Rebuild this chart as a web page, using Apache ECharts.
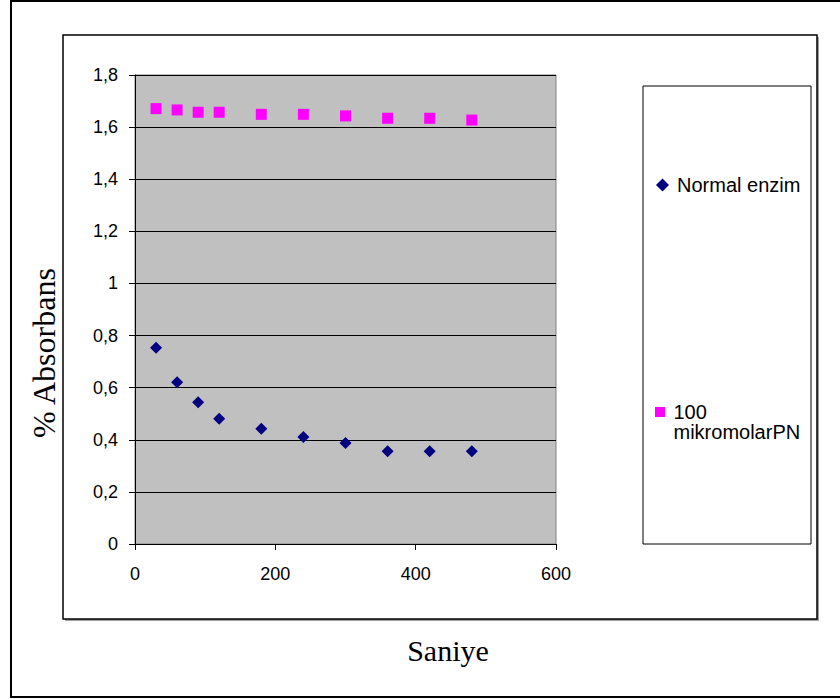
<!DOCTYPE html>
<html>
<head>
<meta charset="utf-8">
<script src="https://cdn.jsdelivr.net/npm/echarts@6/dist/echarts.min.js"></script>
<style>
  html, body { margin: 0; padding: 0; background: #fff; }
  #chart { width: 840px; height: 699px; }
</style>
</head>
<body>
<div id="chart"></div>
<script>
// zaman (saniye)
const seconds = [30, 60, 90, 120, 180, 240, 300, 360, 420, 480];
// normal enzim absorbans
const normalEnzim = [0.753, 0.621, 0.544, 0.481, 0.442, 0.411, 0.388, 0.356, 0.356, 0.356];
// 100 mikromolar PN
const mikromolarPN = [1.671, 1.666, 1.657, 1.657, 1.649, 1.649, 1.643, 1.634, 1.634, 1.627];
const xTicks = [0, 200, 400, 600];
const yTicks = [0, 0.2, 0.4, 0.6, 0.8, 1, 1.2, 1.4, 1.6, 1.8];

const pairs = (xs, ys) => xs.map((x, i) => [x, ys[i]]);
const fmtY = v => String(Math.round(v * 10) / 10).replace('.', ',');
const sans = 'Liberation Sans, Arial, sans-serif';
const serif = '"Liberation Serif", "Times New Roman", serif';

const chart = echarts.init(document.getElementById('chart'), null, { renderer: 'svg' });

const option = {
  animation: false,
  backgroundColor: '#fff',
  textStyle: { fontFamily: sans },
  graphic: [
    // dis cerceve
    { type: 'rect', z: -10, shape: { x: 11, y: 1, width: 840, height: 696 },
      style: { fill: 'none', stroke: '#000', lineWidth: 2 } },
    // grafik alani cercevesi (golge)
    { type: 'rect', z: -10, shape: { x: 65, y: 37, width: 754, height: 584 },
      style: { fill: '#a0a0a0', stroke: 'none' } },
    { type: 'rect', z: -9, shape: { x: 63, y: 35, width: 754, height: 584 },
      style: { fill: '#fff', stroke: '#000', lineWidth: 1.5 } },
    // lejant kutusu
    { type: 'rect', z: -8, shape: { x: 643, y: 86, width: 168, height: 458 },
      style: { fill: '#fff', stroke: '#000', lineWidth: 1 } },
    { type: 'text', x: 448, y: 650,
      style: { text: 'Saniye', font: '30px ' + serif, fill: '#000', align: 'center', verticalAlign: 'middle' } },
    { type: 'text', x: 44, y: 353, rotation: Math.PI / 2,
      style: { text: '% Absorbans', font: '32px ' + serif, fill: '#000', align: 'center', verticalAlign: 'middle' } }
  ],
  grid: {
    left: 135, right: 284, top: 75, bottom: 155,
    show: true, backgroundColor: '#c0c0c0', borderColor: '#808080', borderWidth: 1
  },
  legend: [
    {
      data: [{ name: 'Normal enzim', icon: 'diamond' }],
      orient: 'vertical', left: 656, top: 175, padding: 0, itemWidth: 13, itemHeight: 13, itemGap: 0,
      textStyle: { fontSize: 20, lineHeight: 20, color: '#000', fontFamily: sans, padding: [0, 0, 0, 3] }
    },
    {
      data: [{ name: '100\nmikromolarPN', icon: 'path://M0,0h10v10h-10Z M0,30h0.001v0.001Z' }],
      orient: 'vertical', left: 655, top: 402, padding: 0, itemWidth: 11, itemHeight: 30, itemGap: 0,
      textStyle: { fontSize: 20, color: '#000', lineHeight: 20, fontFamily: sans, padding: [0, 0, 0, 3] }
    }
  ],
  xAxis: {
    type: 'value', min: 0, max: 600, interval: 200,
    axisLine: { show: true, lineStyle: { color: '#000', width: 1 } },
    axisTick: { show: true, length: 6, lineStyle: { color: '#000' } },
    axisLabel: { fontSize: 18, color: '#000', margin: 21, customValues: xTicks },
    splitLine: { show: false }
  },
  yAxis: {
    type: 'value', min: 0, max: 1.8, interval: 0.2,
    axisLine: { show: true, lineStyle: { color: '#000', width: 1 } },
    axisTick: { show: true, length: 6, lineStyle: { color: '#000' } },
    axisLabel: { fontSize: 18, color: '#000', margin: 17, formatter: fmtY },
    splitLine: { show: true, lineStyle: { color: '#000', width: 1 } }
  },
  series: [
    {
      name: 'Normal enzim', type: 'scatter', symbol: 'diamond', symbolSize: 12,
      itemStyle: { color: '#000080', opacity: 1 },
      data: pairs(seconds, normalEnzim)
    },
    {
      name: '100\nmikromolarPN', type: 'scatter', symbol: 'rect', symbolSize: 11,
      itemStyle: { color: '#ff00ff', opacity: 1 },
      data: pairs(seconds, mikromolarPN)
    }
  ]
};

chart.setOption(option);
</script>
</body>
</html>
